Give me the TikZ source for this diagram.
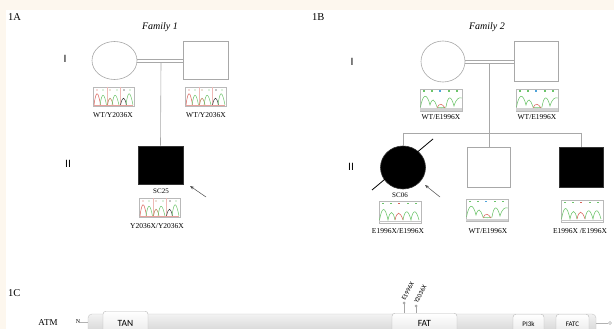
\documentclass[tikz,border=0pt]{standalone}
\usepackage{fontspec}
\setmainfont{Liberation Serif}
\newfontfamily\sansf{Liberation Sans}
\newfontfamily\calib{Carlito}
\usetikzlibrary{shapes.geometric,arrows.meta,calc}
\definecolor{beige}{HTML}{FDF7EE}
\definecolor{pedline}{HTML}{A8A8A8}
\definecolor{chgreen}{HTML}{6CC46A}
\definecolor{chred}{HTML}{D9625A}
\definecolor{chbrown}{HTML}{B07A4A}
\definecolor{chblue}{HTML}{4FA3D9}
\tikzset{
  pedgray/.style={draw=pedline, line width=0.6pt},
  female/.style={ellipse, pedgray, fill=white, inner sep=0pt},
  male/.style={rectangle, pedgray, fill=white, inner sep=0pt},
  affected/.style={fill=black, draw=black!80},
  pedln/.style={draw=pedline, line width=0.6pt},
  geno/.style={font=\fontsize{7.5}{8}\selectfont, inner sep=0pt},
  idlbl/.style={font=\fontsize{7}{8}\selectfont, inner sep=0pt},
  panel/.style={font=\fontsize{10.5}{12}\selectfont, inner sep=0pt, anchor=west},
  famlbl/.style={font=\fontsize{10}{12}\selectfont\itshape, inner sep=0pt},
  genlbl/.style={font=\sansf\fontsize{10.5}{12}\selectfont, inner sep=0pt},
  probarrow/.style={draw=black!70, line width=0.5pt, -{Stealth[length=4pt,width=3pt]}},
  domainbox/.style={draw=gray!55, top color=white, bottom color=gray!18, rounded corners=3pt,
     font=\calib\fontsize{9.5}{10}\selectfont, inner sep=0pt, anchor=north},
  smalldomain/.style={domainbox, font=\calib\fontsize{7}{8}\selectfont},
  mutlbl/.style={font=\calib\fontsize{6.5}{7}\selectfont, inner sep=0pt, anchor=west, rotate=62},
  pics/chromA/.style={code={
    \draw[gray!55, line width=0.4pt, fill=white] (0,0) rectangle (41,19);
    \draw[chred!45, line width=0.4pt] (14,0) -- (14,19) (27,0) -- (27,19);
    \foreach \xx/\cc in {4/chred,10/chgreen,17/chbrown,24/chgreen,31/black,37/chgreen}
      \fill[\cc] (\xx,3) circle (0.6);
    \draw[chred, line width=0.5pt] (1,18) .. controls (3,3) and (5,3) .. (7.5,18);
    \draw[chgreen, line width=0.5pt] (7,18) .. controls (9,5) and (11,5) .. (13.5,18);
    \draw[chbrown, line width=0.5pt] (14.5,18) .. controls (16,9) and (18,9) .. (20,18);
    \draw[chgreen, line width=0.5pt] (19,18) .. controls (21,5) and (23,5) .. (26,18);
    \draw[black!80, line width=0.5pt] (27.5,18) .. controls (29.5,9) and (31.5,9) .. (33.5,18);
    \draw[chgreen, line width=0.5pt] (33,18) .. controls (35,3) and (37,3) .. (40,18);
    \draw[chred!60, line width=0.4pt] (1,18.3) -- (40,18.3);
  }},
  pics/chromHet/.style={code={
    \draw[gray!55, line width=0.4pt, fill=white] (0,0) rectangle (42,22);
    \foreach \xx/\cc in {4/chgreen,12/chgreen,20/chblue,29/chgreen,37/chgreen}
      \fill[\cc] (\xx-1,1.5) rectangle (\xx+1,3.2);
    \fill[gray!35] (0,19.5) rectangle (42,22);
    \draw[chgreen, line width=0.55pt] (0.5,18) .. controls (3,4) and (7,4) .. (10,16)
      .. controls (12,9) and (14,9) .. (17,18) .. controls (18,19) and (24,19) .. (26,18)
      .. controls (28,6) and (31,6) .. (34,17) .. controls (36,10) and (39,8) .. (41.5,9);
    \draw[chred, line width=0.5pt] (17,19) .. controls (19,14) and (22,14) .. (25,19);
  }},
  pics/chromHom/.style={code={
    \draw[gray!55, line width=0.4pt, fill=white] (0,0) rectangle (42,22);
    \foreach \xx/\cc in {4/chgreen,12/chgreen,20/chred,29/chgreen,37/chgreen}
      \fill[\cc] (\xx-1,1.5) rectangle (\xx+1,3.2);
    \draw[gray!45, line width=0.6pt] (0,20.5) -- (42,20.5);
    \draw[chgreen, line width=0.55pt] (0.5,19) .. controls (3,5) and (6,5) .. (9,19)
      .. controls (11,9) and (14,9) .. (16,19);
    \draw[chred, line width=0.55pt] (16,19) .. controls (18,10) and (21,10) .. (24,19);
    \draw[chgreen, line width=0.55pt] (24,19) .. controls (26,8) and (29,8) .. (32,19)
      .. controls (34,8) and (37,8) .. (40,19);
  }},
}
\begin{document}
\begin{tikzpicture}[x=1pt,y=-1pt]
\useasboundingbox (0,0) rectangle (614,329);
\fill[beige] (0,0) rectangle (614,329);
\fill[white] (6,10) rectangle (614,329);

% ---------------- Family 1 ----------------
\node[panel] (p1a) at (8,17) {1A};
\node[famlbl] (fam1) at (160,27) {Family 1};
\node[genlbl] (g1i) at (65,59) {I};
\node[genlbl] (g1ii) at (68,164) {II};

\node[female, minimum width=45pt, minimum height=38pt] (m1) at (114.5,60.5) {};
\node[male, minimum width=45pt, minimum height=38pt] (f1) at (205.5,60) {};
\node[male, affected, minimum width=45pt, minimum height=38pt] (c1) at (160.5,165) {};
\draw[pedln] ($(m1.east)+(0,-1.6)$) -- ($(m1.east -| f1.west)+(0,-1.6)$);
\draw[pedln] ($(m1.east)+(0,1.6)$) -- ($(m1.east -| f1.west)+(0,1.6)$);
\coordinate (d1) at (161,62.1);
\draw[pedln] (d1) -- (c1.north);

\pic at (93,87) {chromA};
\pic at (185,87) {chromA};
\pic at (139,198) {chromA};
\node[geno] (gm1) at (113,115) {WT/Y2036X};
\node[geno] (gf1) at (206,115) {WT/Y2036X};
\node[idlbl] (sc25) at (161,191) {SC25};
\node[geno] (gc1) at (157,226) {Y2036X/Y2036X};
\coordinate (a1s) at (206,197);
\coordinate (a1e) at (190,186);
\draw[probarrow] (a1s) -- (a1e);

% ---------------- Family 2 ----------------
\node[panel] (p1b) at (312,17) {1B};
\node[famlbl] (fam2) at (487,27) {Family 2};
\node[genlbl] (g2i) at (352,62) {I};
\node[genlbl] (g2ii) at (351,167) {II};

\node[female, minimum width=44pt, minimum height=41pt] (m2) at (443,61.5) {};
\node[male, minimum width=44pt, minimum height=40pt] (f2) at (536,61) {};
\draw[pedln] ($(m2.east)+(0,-1.6)$) -- ($(m2.east -| f2.west)+(0,-1.6)$);
\draw[pedln] ($(m2.east)+(0,1.6)$) -- ($(m2.east -| f2.west)+(0,1.6)$);

\node[female, affected, minimum width=45pt, minimum height=43pt] (c21) at (403,167.5) {};
\node[male, minimum width=43pt, minimum height=40pt] (c22) at (489,167) {};
\node[male, affected, minimum width=44pt, minimum height=40pt] (c23) at (581,167) {};
\coordinate (d2) at (489,63.1);
\coordinate (sL) at (403,133);
\coordinate (sR) at (581,133);
\draw[pedln] (d2) -- (c22.north);
\draw[pedln] (sL) -- (sR);
\draw[pedln] (sL) -- (c21.north);
\draw[pedln] (sR) -- (c23.north);
\coordinate (sl1) at (372,190);
\coordinate (sl2) at (433,139);
\draw[black, line width=0.8pt] (sl1) -- (sl2);

\pic at (420,89) {chromHet};
\pic at (516,89) {chromHet};
\pic at (379,201) {chromHom};
\pic at (466,199) {chromHet};
\pic at (561,200) {chromHom};
\node[geno] (gm2) at (441,117) {WT/E1996X};
\node[geno] (gf2) at (537,117) {WT/E1996X};
\node[idlbl] (sc06) at (400,195) {SC06};
\node[geno] (gc21) at (398,231) {E1996X/E1996X};
\node[geno] (gc22) at (488,231) {WT/E1996X};
\node[geno] (gc23) at (580,231) {E1996X /E1996X};
\coordinate (a2s) at (440,197);
\coordinate (a2e) at (425,185);
\draw[probarrow] (a2s) -- (a2e);

% ---------------- 1C protein ----------------
\node[panel] (p1c) at (8,293) {1C};
\node[font=\fontsize{9}{10}\selectfont, inner sep=0pt] (atm) at (48,323) {ATM};
\node[font=\fontsize{6}{7}\selectfont, inner sep=0pt] (nterm) at (78,322) {N};
\begin{scope}
\clip (0,0) rectangle (614,329);
\shade[top color=gray!10, bottom color=gray!50, draw=gray!45, rounded corners=4pt] (88,314) rectangle (596,346);
\node[domainbox, minimum width=45pt, minimum height=24pt] (tan) at (125.5,311) {TAN};
\node[domainbox, minimum width=65pt, minimum height=20pt] (fat) at (424.5,313) {FAT};
\node[smalldomain, minimum width=31pt, minimum height=20pt] (pi3k) at (528.5,314) {PI3k};
\node[smalldomain, minimum width=33pt, minimum height=20pt] (fatc) at (572.5,314) {FATC};
\end{scope}
\coordinate (barL) at (88,322);
\coordinate (barR) at (596,323);
\draw[gray!60, line width=0.8pt] (nterm.east) -- (barL);
\node[circle, draw=gray!60, fill=white, inner sep=0pt, minimum size=3pt] (cterm) at (610,323) {};
\draw[gray!60, line width=0.8pt] (barR) -- (cterm.west);

\coordinate (mE) at (404,303);
\coordinate (mY) at (416,306);
\draw[gray!70, line width=0.6pt] (mE) -- (mE |- fat.north);
\draw[gray!70, line width=0.6pt] (mY) -- (mY |- fat.north);
\fill[gray!70] (mE) circle (1.5);
\fill[gray!70] (mY) circle (1.5);
\node[mutlbl] (lE) at (403,300) {E1996X};
\node[mutlbl] (lY) at (415.5,303) {Y2036X};
\end{tikzpicture}
\end{document}
